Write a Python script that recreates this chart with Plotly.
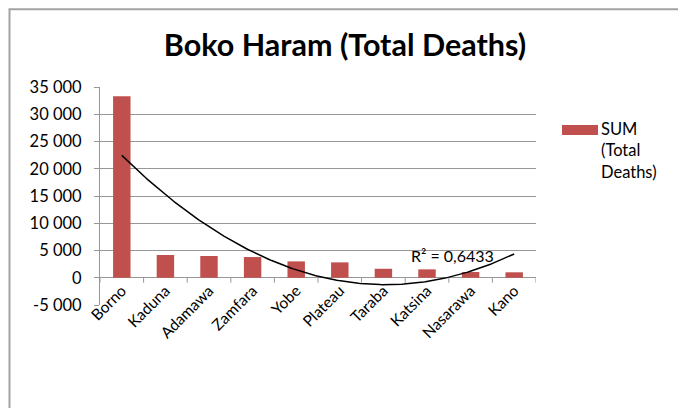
import numpy as np
import plotly.graph_objects as go

categories = ["Borno", "Kaduna", "Adamawa", "Zamfara", "Yobe", "Plateau",
              "Taraba", "Katsina", "Nasarawa", "Kano"]
deaths = [33300, 4170, 3990, 3800, 3000, 2820, 1650, 1540, 1050, 1000]
ytick_vals = [-5000, 0, 5000, 10000, 15000, 20000, 25000, 30000, 35000]
ytick_text = ["-5 000", "0", "5 000", "10 000", "15 000", "20 000", "25 000", "30 000", "35 000"]
title_text = "Boko Haram (Total Deaths)"
series_name = "SUM<br>(Total<br>Deaths)"
r2_text = "R² = 0,6433"

FONT = "Lato, 'Open Sans', sans-serif"
BAR = "#C0504D"
GRID = "#979797"
OFF = 8  # page body margin offset

xs = np.arange(len(categories))
# 2nd-order polynomial trendline (as Excel's), computed from the data
coef = np.polyfit(xs + 1, deaths, 2)
xfine = np.linspace(0, len(categories) - 1, 200)
yfine = np.polyval(coef, xfine + 1)

fig = go.Figure()
fig.add_trace(go.Bar(x=xs, y=deaths, marker=dict(color=BAR, line=dict(width=0)),
                     width=0.4, name="SUM (Total Deaths)", showlegend=False))
fig.add_trace(go.Scatter(x=xfine, y=yfine, mode="lines",
                         line=dict(color="black", width=1.5), showlegend=False,
                         hoverinfo="skip"))

shapes = []
tick_len = 5 * 40000 / 218
for b in np.arange(-0.5, len(categories), 1.0):
    shapes.append(dict(type="line", xref="x", yref="y", x0=b, x1=b, y0=0, y1=-tick_len,
                       line=dict(color=GRID, width=1)))
shapes.append(dict(type="rect", xref="paper", yref="paper",
                   x0=(9.5 - 100) / 436, x1=(682 - 100) / 436,
                   y0=(305 - 440) / 218, y1=(305 - 9.3) / 218,
                   line=dict(color="#a3a3a3", width=2), fillcolor="rgba(0,0,0,0)"))
shapes.append(dict(type="rect", xref="paper", yref="paper",
                   x0=(562 - 100) / 436, x1=(598 - 100) / 436,
                   y0=(305 - 135) / 218, y1=(305 - 125) / 218,
                   line=dict(width=0), fillcolor=BAR))

annotations = [
    dict(text=series_name, xref="paper", yref="paper",
         x=(599 - 100) / 436, y=(305 - 117) / 218, xanchor="left", yanchor="top",
         showarrow=False, align="left", font=dict(family=FONT, size=16.5, color="black")),
    dict(text=r2_text, xref="paper", yref="paper",
         x=(409 - 100) / 436, y=(305 - 255) / 218, xanchor="left", yanchor="middle",
         showarrow=False, font=dict(family=FONT, size=16, color="black")),
]

fig.update_layout(
    width=686, height=408,
    margin=dict(l=100 - OFF, r=150 + OFF, t=87 - OFF, b=103 + OFF),
    paper_bgcolor="white", plot_bgcolor="white",
    title=dict(text="<b>" + title_text + "</b>", x=(345 - OFF) / 686, xanchor="center",
               y=1 - (45 - OFF) / 408, yanchor="middle",
               font=dict(family=FONT, size=30.5, color="black")),
    font=dict(family=FONT, size=15.5, color="black"),
    shapes=shapes, annotations=annotations,
    bargap=0.6,
)
fig.update_xaxes(range=[-0.5, len(categories) - 0.5], tickvals=xs, ticktext=categories,
                 tickangle=-45, showgrid=False, zeroline=False, showline=False,
                 ticks="", anchor="free", position=0.125,
                 tickfont=dict(family=FONT, size=15.5, color="black"))
fig.update_yaxes(range=[-5000, 35000], tickvals=ytick_vals, ticktext=ytick_text,
                 domain=[0, 1],
                 showgrid=True, gridcolor=GRID, gridwidth=1,
                 zeroline=True, zerolinecolor=GRID, zerolinewidth=1,
                 showline=True, linecolor=GRID, linewidth=1,
                 ticks="outside", ticklen=5, tickcolor=GRID, ticklabelstandoff=9,
                 tickfont=dict(family=FONT, size=16.5, color="black"))

fig.write_html("out.html")
